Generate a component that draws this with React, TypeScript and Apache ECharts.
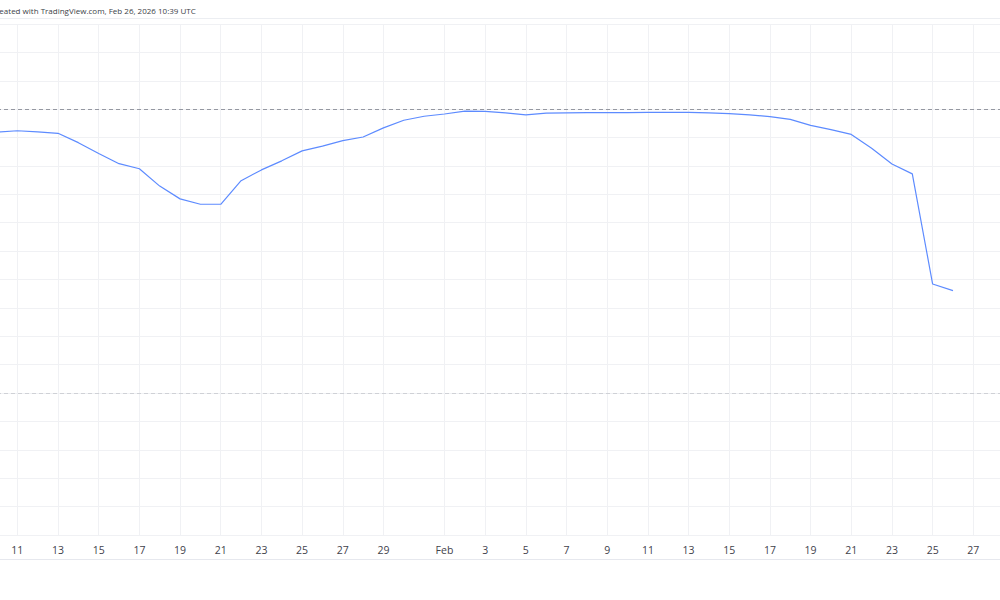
import * as echarts from 'echarts';
import React, { useEffect, useRef } from 'react';

// one category per day, Jan 10 .. Mar 1 (2026)
const days = [
  'Jan 10', 'Jan 11', 'Jan 12', 'Jan 13', 'Jan 14', 'Jan 15', 'Jan 16', 'Jan 17', 'Jan 18', 'Jan 19',
  'Jan 20', 'Jan 21', 'Jan 22', 'Jan 23', 'Jan 24', 'Jan 25', 'Jan 26', 'Jan 27', 'Jan 28', 'Jan 29',
  'Jan 30', 'Jan 31', 'Feb 1', 'Feb 2', 'Feb 3', 'Feb 4', 'Feb 5', 'Feb 6', 'Feb 7', 'Feb 8',
  'Feb 9', 'Feb 10', 'Feb 11', 'Feb 12', 'Feb 13', 'Feb 14', 'Feb 15', 'Feb 16', 'Feb 17', 'Feb 18',
  'Feb 19', 'Feb 20', 'Feb 21', 'Feb 22', 'Feb 23', 'Feb 24', 'Feb 25', 'Feb 26', 'Feb 27', 'Feb 28',
  'Mar 1',
];

// days that get a label and a vertical grid line
const tickDays = [
  'Jan 11', 'Jan 13', 'Jan 15', 'Jan 17', 'Jan 19', 'Jan 21', 'Jan 23', 'Jan 25', 'Jan 27', 'Jan 29',
  'Feb 1', 'Feb 3', 'Feb 5', 'Feb 7', 'Feb 9', 'Feb 11', 'Feb 13', 'Feb 15', 'Feb 17', 'Feb 19',
  'Feb 21', 'Feb 23', 'Feb 25', 'Feb 27',
];

// daily values, Jan 10 .. Feb 26 (scale has no labels)
const values = [
  14.19, 14.24, 14.2, 14.15, 13.82, 13.44, 13.08, 12.9, 12.29, 11.84,
  11.65, 11.65, 12.48, 12.86, 13.18, 13.53, 13.7, 13.89, 14.02, 14.34,
  14.61, 14.75, 14.83, 14.93, 14.92, 14.87, 14.8, 14.86, 14.87, 14.88,
  14.88, 14.88, 14.89, 14.89, 14.89, 14.87, 14.84, 14.8, 14.74, 14.64,
  14.43, 14.28, 14.11, 13.62, 13.07, 12.72, 8.84, 8.61,
];

// dashed horizontal levels
const levels = [15, 5];
const levelColors = ['#9598a1', '#cfd1d6'];

const headerText = 'Created with TradingView.com, Feb 26, 2026 10:39 UTC';

// the chart div starts a little left of the window, so Jan 10 sits just off-screen
const SHIFT = 3.33;
const WIDTH = 1016.6;

const App: React.FC = () => {
  const chartRef = useRef<HTMLDivElement>(null);

  useEffect(() => {
    document.body.style.overflow = 'hidden';
    const myChart = echarts.init(chartRef.current!, undefined, { renderer: 'svg' });

    const option = {
      animation: false,
      backgroundColor: '#ffffff',
      textStyle: { fontFamily: 'Open Sans' },
      grid: {
        left: 0,
        right: 0,
        top: 24,
        bottom: 65,
        containLabel: false,
      },
      xAxis: {
        type: 'category',
        data: days,
        boundaryGap: false,
        axisLine: { show: false },
        axisTick: { show: false },
        axisLabel: {
          interval: (_i: number, v: string) => tickDays.includes(v),
          formatter: (v: string) => (v === 'Feb 1' ? 'Feb' : v.split(' ')[1]),
          color: '#3f424b',
          fontSize: 10.5,
          margin: 9,
          fontFamily: 'Open Sans',
        },
        splitLine: {
          show: true,
          interval: (_i: number, v: string) => tickDays.includes(v),
          lineStyle: { color: '#f0f1f4', width: 1 },
        },
      },
      yAxis: {
        type: 'value',
        min: 0,
        max: 18,
        interval: 1,
        axisLine: { show: false },
        axisTick: { show: false },
        axisLabel: { show: false },
        splitLine: { lineStyle: { color: '#f0f1f4', width: 1 } },
      },
      series: [
        {
          type: 'line',
          data: values,
          symbol: 'none',
          lineStyle: { color: '#5d8bff', width: 1.2 },
          markLine: {
            silent: true,
            symbol: 'none',
            label: { show: false },
            data: levels.map((lv, i) => ({
              yAxis: lv,
              lineStyle: { color: levelColors[i], type: [4, 3], width: 1 },
            })),
          },
        },
      ],
      graphic: [
        {
          type: 'line',
          shape: { x1: 0, y1: 18.5, x2: WIDTH, y2: 18.5 },
          style: { stroke: '#eceef2', lineWidth: 1 },
          silent: true,
        },
        {
          type: 'line',
          shape: { x1: 0, y1: 559.5, x2: WIDTH, y2: 559.5 },
          style: { stroke: '#e6e8ee', lineWidth: 1 },
          silent: true,
        },
        {
          type: 'text',
          x: SHIFT - 9.3,
          y: 10,
          style: {
            text: headerText,
            fill: '#3c3f48',
            fontSize: 8,
            fontFamily: 'Open Sans',
            verticalAlign: 'middle',
          },
          silent: true,
        },
      ],
    };

    myChart.setOption(option);

    return () => {
      myChart.dispose();
    };
  }, []);

  return (
    <div
      ref={chartRef}
      style={{ position: 'fixed', left: `-${SHIFT}px`, top: 0, width: `${WIDTH}px`, height: '600px' }}
    />
  );
};

export default App;
